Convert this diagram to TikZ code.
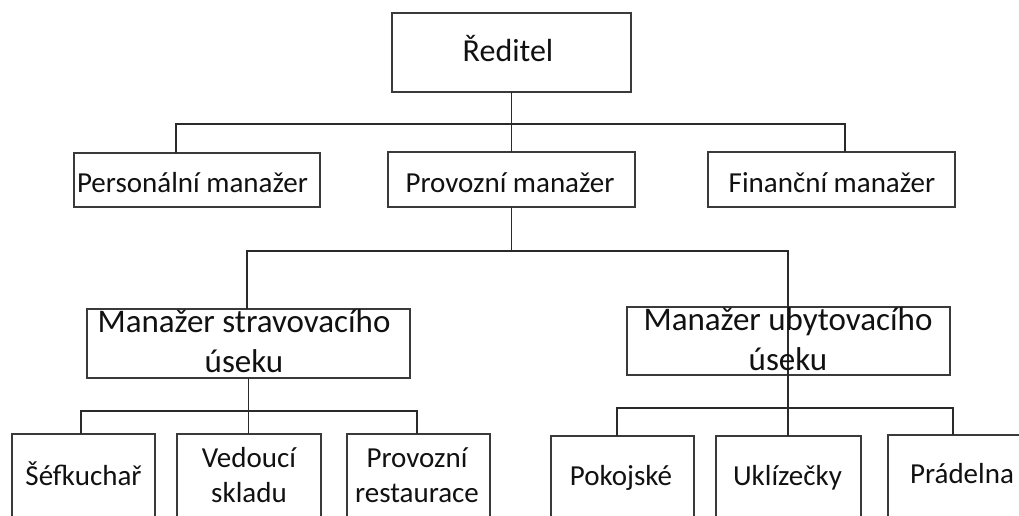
\documentclass[tikz,border=0pt]{standalone}
\usepackage{fontspec}
\setmainfont{Carlito}
\definecolor{boxgray}{HTML}{3A3A3A}
\definecolor{linegray}{HTML}{2A2A2A}
\definecolor{inkblack}{HTML}{111111}
\begin{document}
\begin{tikzpicture}[x=1pt,y=-1pt,
  box/.style={draw=boxgray, line width=1.4pt, fill=white, inner sep=0pt, outer sep=0pt},
  link/.style={draw=linegray, line width=1.4pt},
  lbl/.style={inner sep=0pt, text=inkblack, anchor=base, align=center},
  fsmall/.style={font=\fontsize{29}{35}\selectfont},
  fbig/.style={font=\fontsize{33}{40}\selectfont},
  ftop/.style={font=\fontsize{32}{38}\selectfont}]
\useasboundingbox (0,0) rectangle (1019,515);
\clip (0,0) rectangle (1019,515);

% boxes
\node[box, minimum width=239pt, minimum height=79pt] (dir) at (511.5,52.5) {};
\node[box, minimum width=246pt, minimum height=54pt] (pers) at (197,180) {};
\node[box, minimum width=247pt, minimum height=55pt] (prov) at (511.5,179.5) {};
\node[box, minimum width=247pt, minimum height=55pt] (fin) at (831.5,179.5) {};
\node[box, minimum width=323pt, minimum height=69pt] (strav) at (248.5,343.5) {};
\node[box, minimum width=323pt, minimum height=68pt] (ubyt) at (788.5,341) {};
\node[box, minimum width=143pt, minimum height=106pt] (sef) at (83.5,487) {};
\node[box, minimum width=144pt, minimum height=106pt] (ved) at (249,487) {};
\node[box, minimum width=143pt, minimum height=106pt] (rest) at (418.5,487) {};
\node[box, minimum width=143pt, minimum height=104pt] (pok) at (622.5,488) {};
\node[box, minimum width=145pt, minimum height=104pt] (ukl) at (788.5,488) {};
\node[box, minimum width=145pt, minimum height=105pt] (prad) at (960.5,487.5) {};

% bus joints
\coordinate (b1w) at (176,124);
\coordinate (b1e) at (845,124);
\coordinate (b2w) at (247,251);
\coordinate (b2e) at (788,251);
\coordinate (b3w) at (81,411);
\coordinate (b3e) at (417,411);
\coordinate (b4w) at (617,408);
\coordinate (b4e) at (953,408);

% connectors
\draw[link] (dir.south) -- (prov.north);
\draw[link] (pers.north -| b1w) -- (b1w) -- (b1e) -- (b1e |- fin.north);
\draw[link] (prov.south) -- (prov.south |- b2w);
\draw[link] (strav.north -| b2w) -- (b2w) -- (b2e) -- (b2e |- ukl.north);
\draw[link] (strav.south) -- (strav.south |- ved.north);
\draw[link] (sef.north -| b3w) -- (b3w) -- (b3e) -- (b3e |- rest.north);
\draw[link] (pok.north -| b4w) -- (b4w) -- (b4e) -- (b4e |- prad.north);

% labels (multi-line labels sit on the baseline of their last line)
\node[lbl, ftop] (dirT) at (508,61) {Ředitel};
\node[lbl, fsmall] (persT) at (192.5,192) {Personální manažer};
\node[lbl, fsmall] (provT) at (510,192) {Provozní manažer};
\node[lbl, fsmall] (finT) at (832,192) {Finanční manažer};
\node[lbl, fbig] (stravT) at (244,372) {Manažer stravovacího\\úseku};
\node[lbl, fbig] (ubytT) at (788,370) {Manažer ubytovacího\\úseku};
\node[lbl, fsmall] (sefT) at (83.5,485) {Šéfkuchař};
\node[lbl, fsmall] (vedT) at (249,502) {Vedoucí\\skladu};
\node[lbl, fsmall] (restT) at (417,502) {Provozní\\restaurace};
\node[lbl, fsmall] (pokT) at (621,485) {Pokojské};
\node[lbl, fsmall] (uklT) at (787.5,485) {Uklízečky};
\node[lbl, fsmall] (pradT) at (962,483) {Prádelna};
\end{tikzpicture}
\end{document}
